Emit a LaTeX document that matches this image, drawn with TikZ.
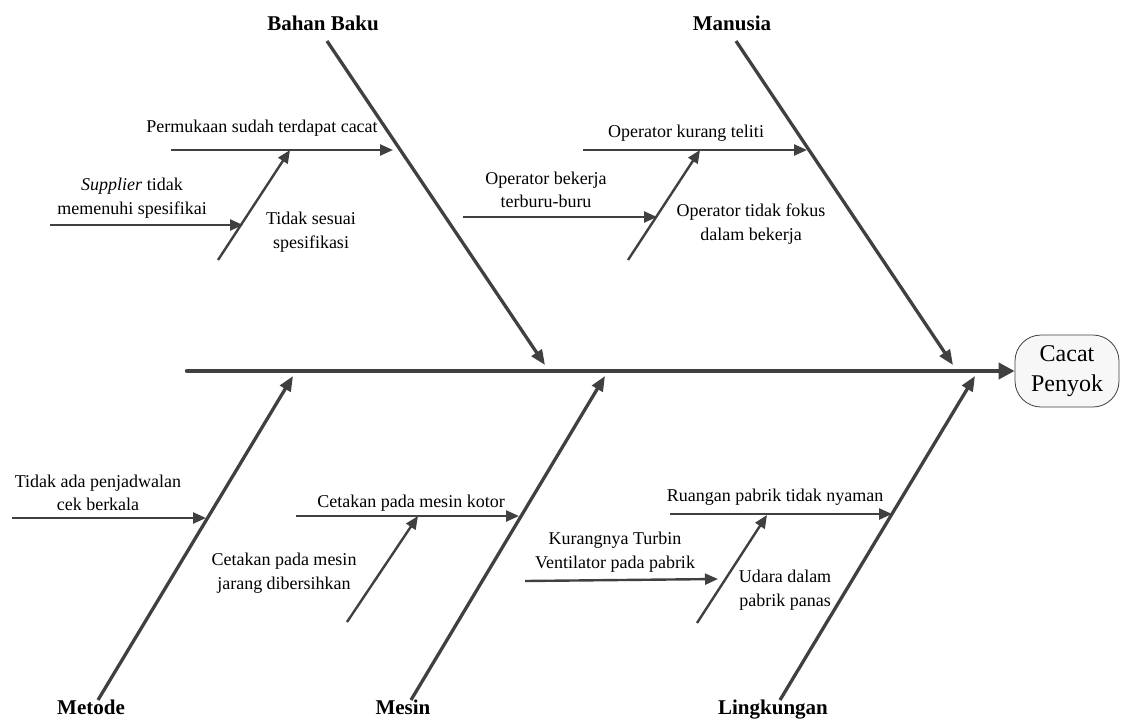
\documentclass[tikz,border=0pt]{standalone}
\usepackage{fontspec}
\setmainfont{Liberation Serif}
\usetikzlibrary{arrows.meta}
\definecolor{bone}{HTML}{404040}
\begin{document}
\begin{tikzpicture}[x=1pt,y=-1pt,
  spine/.style={draw=bone,line width=4.4pt,line cap=round,-{Triangle[length=16pt,width=16pt]}},
  mainbone/.style={draw=bone,line width=3.3pt,-{Triangle[length=15pt,width=12pt]}},
  subbone/.style={draw=bone,line width=2.4pt,-{Triangle[length=13pt,width=11pt]}},
  cause/.style={font=\fontsize{18}{23.5}\selectfont,align=center,inner sep=0pt},
  category/.style={font=\bfseries\fontsize{21}{24}\selectfont,inner sep=0pt},
  effect/.style={draw=bone,line width=0.8pt,rounded corners=26pt,fill=black!3,
    minimum width=104pt,minimum height=72pt,align=center,
    font=\fontsize{24}{30}\selectfont}]
\useasboundingbox (0,0) rectangle (1121,718);

% effect (head of the fish)
\node[effect] (head) at (1067,371) {Cacat\\Penyok};
\coordinate (tail) at (187,371);
\draw[spine] (tail) -- (head.west);

% main bones
\coordinate (bbT) at (327,41);   \coordinate (bbH) at (545,365);
\coordinate (mnT) at (736,41);   \coordinate (mnH) at (953,365);
\coordinate (mtT) at (98,700);   \coordinate (mtH) at (293,376);
\coordinate (msT) at (411,700);  \coordinate (msH) at (605,376);
\coordinate (lkT) at (780,700);  \coordinate (lkH) at (975,376);
\draw[mainbone] (bbT) -- (bbH);
\draw[mainbone] (mnT) -- (mnH);
\draw[mainbone] (mtT) -- (mtH);
\draw[mainbone] (msT) -- (msH);
\draw[mainbone] (lkT) -- (lkH);

% category labels
\node[category] (lbb) at (323,23) {Bahan Baku};
\node[category] (lmn) at (732,23) {Manusia};
\node[category,anchor=base] (lmt) at (91,714) {Metode};
\node[category,anchor=base] (lms) at (403,714) {Mesin};
\node[category,anchor=base] (llk) at (773,714) {Lingkungan};

% Bahan Baku causes
\coordinate (b1s) at (171,150); \coordinate (b1e) at (393,150);
\coordinate (b2s) at (218,260); \coordinate (b2e) at (290,150);
\coordinate (b3s) at (50,225);  \coordinate (b3e) at (243,225);
\draw[subbone] (b1s) -- (b1e);
\draw[subbone] (b2s) -- (b2e);
\draw[subbone] (b3s) -- (b3e);
\node[cause] (tb1) at (262,128) {Permukaan sudah terdapat cacat};
\node[cause] (tb3) at (132,198) {\textit{Supplier} tidak\\memenuhi spesifikai};
\node[cause] (tb2) at (311,232) {Tidak sesuai\\spesifikasi};

% Manusia causes
\coordinate (m1s) at (583,150); \coordinate (m1e) at (807,150);
\coordinate (m2s) at (628,260); \coordinate (m2e) at (700,150);
\coordinate (m3s) at (463,217); \coordinate (m3e) at (657,217);
\draw[subbone] (m1s) -- (m1e);
\draw[subbone] (m2s) -- (m2e);
\draw[subbone] (m3s) -- (m3e);
\node[cause] (tm1) at (686,133) {Operator kurang teliti};
\node[cause] (tm3) at (546,190) {Operator bekerja\\terburu-buru};
\node[cause] (tm2) at (751,224) {Operator tidak fokus\\dalam bekerja};

% Metode causes
\coordinate (t1s) at (12,518); \coordinate (t1e) at (206,518);
\draw[subbone] (t1s) -- (t1e);
\node[cause] (tt1) at (98,493) {Tidak ada penjadwalan\\cek berkala};

% Mesin causes
\coordinate (s1s) at (296,516); \coordinate (s1e) at (519,516);
\coordinate (s2s) at (347,622); \coordinate (s2e) at (418,516);
\draw[subbone] (s1s) -- (s1e);
\draw[subbone] (s2s) -- (s2e);
\node[cause] (ts1) at (411,503) {Cetakan pada mesin kotor};
\node[cause] (ts2) at (284,573) {Cetakan pada mesin\\jarang dibersihkan};

% Lingkungan causes
\coordinate (l1s) at (670,514); \coordinate (l1e) at (892,514);
\coordinate (l2s) at (697,623); \coordinate (l2e) at (767,515);
\coordinate (l3s) at (525,581); \coordinate (l3e) at (718,579);
\draw[subbone] (l1s) -- (l1e);
\draw[subbone] (l2s) -- (l2e);
\draw[subbone] (l3s) -- (l3e);
\node[cause] (tl1) at (775,497) {Ruangan pabrik tidak nyaman};
\node[cause] (tl3) at (615,552) {Kurangnya Turbin\\Ventilator pada pabrik};
\node[cause] (tl2) at (785,590) {Udara dalam\\pabrik panas};
\end{tikzpicture}
\end{document}
